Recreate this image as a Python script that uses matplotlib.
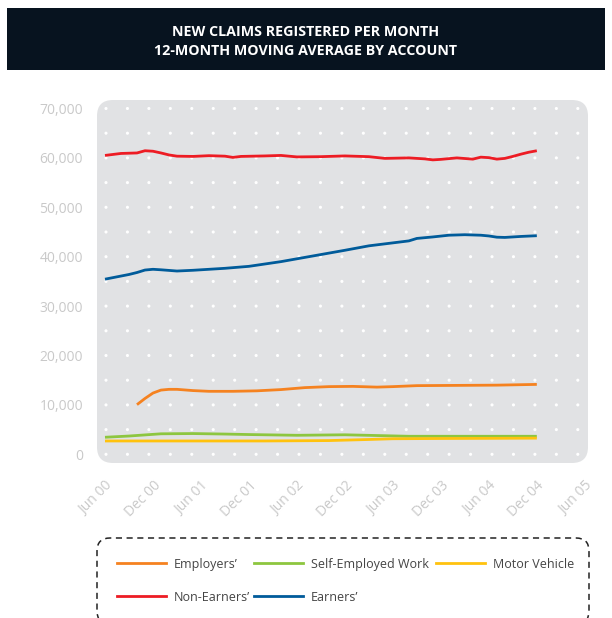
import numpy as np
import matplotlib
matplotlib.use("Agg")
import matplotlib.pyplot as plt
from matplotlib.patches import FancyBboxPatch, Rectangle
from matplotlib.lines import Line2D

# ---------------- data (months since Jun 2000) ----------------
tick_months = [0, 6, 12, 18, 24, 30, 36, 42, 48, 54, 60]
tick_labels = ["Jun 00", "Dec 00", "Jun 01", "Dec 01", "Jun 02", "Dec 02",
               "Jun 03", "Dec 03", "Jun 04", "Dec 04", "Jun 05"]
y_ticks = [0, 10000, 20000, 30000, 40000, 50000, 60000, 70000]

nonearn_m = [0, 2, 4, 5, 6, 7, 8, 9, 11, 13, 15, 16, 17, 20, 22, 24, 27, 30, 33,
             35, 38, 40, 41, 42, 44, 46, 47, 48, 49, 50, 51, 52, 53, 54]
nonearn_v = [60500, 60900, 61000, 61450, 61350, 61000, 60600, 60350, 60300, 60450,
             60350, 60100, 60300, 60400, 60500, 60200, 60250, 60400, 60250, 59900,
             60000, 59800, 59600, 59700, 60000, 59750, 60150, 60050, 59750, 59900,
             60300, 60750, 61150, 61450]

earn_m = [0, 3, 4, 5, 6, 7, 9, 11, 15, 18, 22, 26, 30, 33, 36, 38, 39, 41, 43, 45,
          47, 48, 49, 50, 52, 54]
earn_v = [35450, 36400, 36800, 37300, 37450, 37350, 37100, 37250, 37650, 38050,
          39000, 40150, 41300, 42200, 42800, 43200, 43700, 44000, 44350, 44450,
          44350, 44200, 43950, 43900, 44100, 44250]

employ_m = [4, 5, 6, 7, 8, 9, 11, 13, 16, 19, 22, 25, 28, 31, 34, 36, 39, 44, 49, 54]
employ_v = [10050, 11300, 12400, 13000, 13150, 13150, 12900, 12750, 12750, 12850,
            13100, 13500, 13700, 13750, 13600, 13700, 13900, 13950, 14000, 14150]

selfemp_m = [0, 3, 7, 11, 15, 18, 24, 30, 34, 38, 44, 54]
selfemp_v = [3450, 3700, 4150, 4200, 4100, 4000, 3850, 3950, 3800, 3650, 3650, 3650]

motor_m = [0, 10, 20, 28, 33, 36, 42, 48, 54]
motor_v = [2700, 2700, 2700, 2780, 3000, 3150, 3200, 3230, 3270]

series_names = ["Employers\u2019", "Self-Employed Work", "Motor Vehicle",
                "Non-Earners\u2019", "Earners\u2019"]
series_colors = ["#f58220", "#8dc63f", "#ffc20e", "#ed1c24", "#005b9a"]
series_data = [(employ_m, employ_v), (selfemp_m, selfemp_v), (motor_m, motor_v),
               (nonearn_m, nonearn_v), (earn_m, earn_v)]

# ---------------- figure ----------------
W, H = 612, 618
fig = plt.figure(figsize=(W / 100, H / 100), dpi=100)
fig.patch.set_facecolor("white")
FONT = "Open Sans"

# title bar
fig.add_artist(Rectangle((7 / W, 1 - 70 / H), 598 / W, 62 / H, transform=fig.transFigure,
                         facecolor="#07131f", edgecolor="none"))
fig.text(306 / W, 1 - 30 / H, "NEW CLAIMS REGISTERED PER MONTH", ha="center",
         va="center_baseline", color="white", fontsize=10.3, fontweight="bold", family=FONT)
fig.text(306 / W, 1 - 49.5 / H, "12-MONTH MOVING AVERAGE BY ACCOUNT", ha="center",
         va="center_baseline", color="white", fontsize=10.3, fontweight="bold", family=FONT)

# axes
left, right, top, bottom = 97, 588, 100, 463
ax = fig.add_axes([left / W, 1 - bottom / H, (right - left) / W, (bottom - top) / H])
ax.set_facecolor("none")
ax.set_xlim(-1.0, 60.4)
ax.set_ylim(-1760, 71720)
for s in ax.spines.values():
    s.set_visible(False)

aw, ah = right - left, bottom - top
panel = FancyBboxPatch((0, 0), 1, 1, transform=ax.transAxes,
                       boxstyle="round,pad=0,rounding_size=%f" % (16 / aw),
                       mutation_aspect=aw / ah, facecolor="#e1e2e4", edgecolor="none",
                       zorder=0, clip_on=False)
ax.add_patch(panel)

# dot grid
dot_x = np.linspace(0.125, 59.125, 23)
dot_y = np.arange(0, 70001, 5000)
DX, DY = np.meshgrid(dot_x, dot_y)
ax.scatter(DX.ravel(), DY.ravel(), s=5, color="white", edgecolors="none", zorder=1)

for (m, v), c in zip(series_data, series_colors):
    ax.plot(m, v, color=c, lw=2.0, zorder=3, solid_capstyle="butt", solid_joinstyle="round")

ax.set_xticks(tick_months)
ax.set_xticklabels(tick_labels, rotation=45, ha="right", va="top", rotation_mode="anchor",
                   family=FONT, fontsize=10, color="#c9c9c9")
ax.set_yticks(y_ticks)
ax.set_yticklabels([f"{t:,}" for t in y_ticks], family=FONT, fontsize=10, color="#c9c9c9")
ax.tick_params(axis="both", length=0)
ax.tick_params(axis="y", pad=10)
ax.tick_params(axis="x", pad=11)

# legend (dashed rounded box)
lx0, lx1, ly0, ly1 = 97, 589, 538, 624
lw_, lh_ = lx1 - lx0, ly1 - ly0
box = FancyBboxPatch((lx0 / W, 1 - ly1 / H), lw_ / W, lh_ / H, transform=fig.transFigure,
                     boxstyle="round,pad=0,rounding_size=%f" % (13 / W),
                     mutation_aspect=W / H, facecolor="none", edgecolor="#222222",
                     lw=1.1, linestyle=(0, (4, 3)))
fig.add_artist(box)

entries = [(117, 563), (254, 563), (436, 563), (117, 596), (254, 596)]
for (x0, y0), name, c in zip(entries, series_names, series_colors):
    fig.add_artist(Line2D([x0 / W, (x0 + 49) / W], [1 - y0 / H, 1 - y0 / H],
                          transform=fig.transFigure, color=c, lw=2.0))
    fig.text((x0 + 57) / W, 1 - y0 / H, name, ha="left", va="center_baseline", fontsize=9,
             color="#444444", family=FONT)

fig.savefig("out.png", dpi=100, facecolor="white")
